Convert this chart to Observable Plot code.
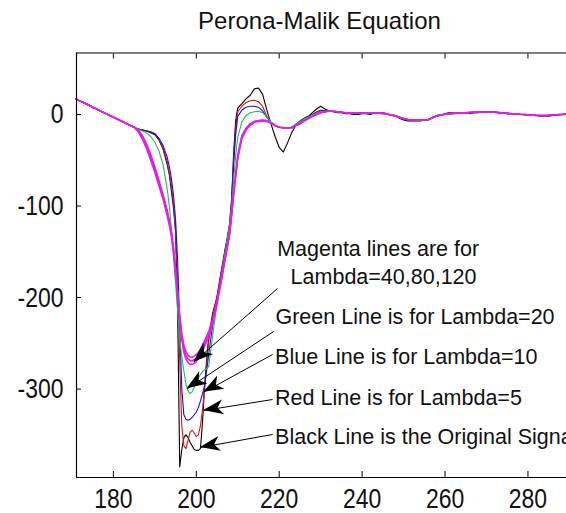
<!DOCTYPE html>
<html><head><meta charset="utf-8">
<script src="https://cdn.jsdelivr.net/npm/d3@7"></script>
<script src="https://cdn.jsdelivr.net/npm/@observablehq/plot@0.6"></script>
<style>body{margin:0;background:#fff;}</style>
</head><body><div id="chart"></div>
<script>
// ---------- data ----------
const titleText = ["Perona-Malik Equation"];
const xTicks = [180, 200, 220, 240, 260, 280];
const yTicks = [0, -100, -200, -300];
const xDomain = [171.1, 289.3];
const yDomain = [-396.6, 67.2];

// shared leading segment (all curves coincide)
const xHead = [171,172,173,174,175,176,177,178,179,180,181,182,183,184,185];
const yHead = [17,14.6,12.5,10.3,8,5.9,3.6,1.5,-0.8,-3,-5.1,-7.3,-9.6,-11.7,-13.9];

// dip region
const xDip = [186,187,188,189,190,191,192,193,193.5,194,194.5,195,195.5,196,196.5,197,197.5,198,198.5,199,199.5,200,200.5,201,201.5,202,202.5,203,204,205,206,207,208,208.5,209,209.5,210,211,212,213,214,215,216,217,218,219,220,221,222,223,224,225,226,227,228,229,230,231,232];
const blackDip = [-16,-17,-18,-20,-22,-28,-38,-55,-66,-84,-102,-128,-215,-385,-366,-353,-350,-353,-358,-362,-366,-367,-367,-365,-336,-296,-268,-242,-216,-200,-172,-146,-126,-100,-42,-6,7,12,17,21,28,29,22,5,-10,-24,-36,-41,-31,-20,-12,-7,-4,-2,2,6,9,6,4];
const redDip = [-16,-17,-18,-19,-21,-27,-37,-52,-64,-78,-98,-128,-185,-270,-340,-362,-365,-356,-347,-345,-348,-352,-350,-340,-322,-300,-272,-248,-220,-198,-172,-146,-120,-92,-48,-14,3,9,13,15,15.5,14,9,-2,-9,-12,-14,-14.5,-14.5,-14,-11,-8,-5,-3,0,3,5,4,3.5];
const blueDip = [-16,-17,-18,-19,-21,-26,-34,-47,-57,-70,-88,-115,-160,-230,-300,-328,-333,-334,-333,-331,-328,-325,-320,-313,-305,-296,-280,-262,-228,-201,-175,-148,-121,-95,-56,-22,-2,5,8,9,9,8,4,-3,-9,-12,-14,-14.5,-14.5,-14,-11,-8,-5,-3,0,2,4,4,3.5];
const greenDip = [-16,-18,-20,-24,-30,-40,-55,-82,-100,-125,-155,-185,-215,-245,-265,-280,-295,-302,-305,-303,-298,-292,-288,-284,-281,-279,-278,-275,-240,-206,-176,-149,-122,-100,-72,-45,-25,-8,-1,2,3,3.5,2,-2,-8,-12,-14,-14.5,-14.5,-14,-11,-8,-5,-3,-0.5,1.5,3,3.5,3.5];
const magenta40Dip = [-17,-23,-32,-44,-57,-72,-88,-105,-116,-128,-146,-168,-195,-224,-246,-260,-267,-271,-273,-273,-272,-270,-267,-263,-258,-253,-248,-243,-228,-207,-183,-157,-132,-110,-86,-65,-45,-23,-15,-10,-7.5,-6.5,-6,-6.5,-9,-12,-14,-14.5,-14.5,-14.5,-12,-10,-7,-4.5,-2,0,2,3,3.5];
const magenta80Dip = [-18,-25,-35,-47,-60,-75,-90,-108,-118,-130,-148,-170,-195,-222,-243,-256,-263,-267,-269,-269,-268,-266,-263,-259,-255,-250,-245,-240,-225,-205,-181,-156,-131,-110,-86,-66,-46,-24,-16,-11,-8,-7,-6.5,-7,-9,-12,-14,-14.5,-14.5,-14.5,-12,-10,-7,-4.5,-2,0,2,3,3.5];
const magenta120Dip = [-19,-27,-37,-50,-63,-78,-93,-111,-121,-133,-151,-172,-196,-220,-240,-252,-259,-263,-265,-265,-264,-262,-260,-256,-252,-247,-242,-237,-223,-203,-180,-155,-131,-111,-88,-68,-48,-26,-17,-12,-8.5,-7.5,-7,-7.5,-9.5,-12,-14,-14.5,-14.5,-14.5,-12,-10,-7,-4.5,-2,0,2,3,3.5];

// trailing segment
const xTail = [233,234,235,236,237,238,239,240,241,242,243,244,245,246,247,248,249,250,251,252,253,254,255,256,257,258,259,260,261,262,263,264,265,266,267,268,269,270,271,272,273,274,275,276,277,278,279,280,281,282,283,284,285,286,287,288,289,290];
const smoothTail = [3.5,3,2.5,2,1.5,1.5,1.5,1.5,1.5,1.5,1.5,1.5,1.2,0.5,-0.5,-1.5,-3,-4.5,-5.5,-6,-6,-6,-6,-5.5,-3.5,-1.5,-0.5,0.3,0.8,1.2,1.5,1.7,2,2.2,2.3,2.4,2.5,2.5,2.5,2.4,2.1,1.7,1.2,0.8,0.5,0.2,0,-0.3,-0.6,-0.9,-1.1,-1.2,-1,-0.6,-0.3,0,0.2,0.3];
const originalTail = [3,2,2,1,1,0,0,1,1,0,2,2,2,1,-1,-1,-4,-6,-7,-7,-7,-7,-6,-6,-3,-1,-1,1,2,2,2,2,2,1,2,2,3,3,3,3,2,2,1,1,0,0,0,-1,-1,-1,-2,-2,-2,-1,-1,0,0,0];

const seriesNames = ["Original", "Lambda=5", "Lambda=10", "Lambda=20", "Lambda=40", "Lambda=80", "Lambda=120"];
const seriesColors = ["#000000", "#e01010", "#1010ee", "#22bb55", "#e020e0", "#e020e0", "#e020e0"];

// annotations
const annoLabels = ["Magenta lines are for", "Lambda=40,80,120", "Green Line is for Lambda=20", "Blue Line is for Lambda=10", "Red Line is for Lambda=5", "Black Line is the Original Signal"];
const annoX = [219.5, 222.75, 219.1, 219.0, 219.0, 219.0];
const annoY = [-146.9, -177.5, -221.2, -265.5, -309.7, -352.3];
const arrowX1 = [219.6, 218.65, 218.4, 218.4, 218.4];
const arrowY1 = [-190.1, -237.1, -262.2, -311.4, -349.6];
const arrowX2 = [199.4, 197.8, 201.8, 201.8, 201.0];
const arrowY2 = [-270.6, -299.7, -303.4, -323.4, -363.8];

// ---------- build tables ----------
const dipSets = [blackDip, redDip, blueDip, greenDip, magenta40Dip, magenta80Dip, magenta120Dip];
const tails = [originalTail, smoothTail, smoothTail, smoothTail, smoothTail, smoothTail, smoothTail];
function table(i) {
  const xs = xHead.concat(xDip, xTail);
  const ys = yHead.concat(dipSets[i], tails[i]);
  return xs.map((x, j) => ({x, y: ys[j], series: seriesNames[i]}));
}
const annos = annoLabels.map((t, i) => ({t, x: annoX[i], y: annoY[i]}));
const arrows = arrowX1.map((x1, i) => ({x1, y1: arrowY1[i], x2: arrowX2[i], y2: arrowY2[i]}));

function arrowHeads(index, scales, values, dimensions, context) {
  const ns = "http://www.w3.org/2000/svg";
  const g = document.createElementNS(ns, "g");
  for (const a of arrows) {
    const X1 = scales.x(a.x1), Y1 = scales.y(a.y1), X2 = scales.x(a.x2), Y2 = scales.y(a.y2);
    const dx = X2 - X1, dy = Y2 - Y1, len = Math.hypot(dx, dy);
    const ux = dx / len, uy = dy / len, nx = -uy, ny = ux;
    const L = 20, W = 7.5, N = 0.72 * L;
    const pts = [
      [X2, Y2],
      [X2 - L * ux + W * nx, Y2 - L * uy + W * ny],
      [X2 - N * ux, Y2 - N * uy],
      [X2 - L * ux - W * nx, Y2 - L * uy - W * ny]
    ];
    const p = document.createElementNS(ns, "path");
    p.setAttribute("d", "M" + pts.map(q => q[0].toFixed(2) + "," + q[1].toFixed(2)).join("L") + "Z");
    p.setAttribute("fill", "black");
    g.appendChild(p);
  }
  return g;
}

const sans = "'Liberation Sans', Arial, sans-serif";

const lineMarks = seriesNames.map((n, i) =>
  Plot.line(table(i), {x: "x", y: "y", stroke: seriesColors[i], strokeWidth: i >= 4 ? 1.6 : 1.1})
);

const plot = Plot.plot({
  width: 566, height: 513,
  marginLeft: 76, marginRight: 0, marginTop: 52.5, marginBottom: 36,
  x: {domain: xDomain, label: null},
  y: {domain: yDomain, label: null},
  style: {fontFamily: sans, background: "white", overflow: "hidden"},
  marks: [
    ...lineMarks,
    Plot.ruleY([yDomain[0], yDomain[1]], {stroke: "black", strokeWidth: 1.2}),
    Plot.ruleX([xDomain[0]], {stroke: "black", strokeWidth: 1.2}),
    Plot.axisX(xTicks, {anchor: "bottom", tickSize: 0, tickPadding: 11, fontSize: 28, fill: "#111", tickFormat: d => String(d), label: null}),
    Plot.axisX(xTicks, {anchor: "bottom", tickSize: -6, tickFormat: () => "", label: null}),
    Plot.axisX(xTicks, {anchor: "top", tickSize: -5, tickFormat: () => "", label: null}),
    Plot.axisY(yTicks, {anchor: "left", tickSize: 0, tickPadding: 13, fontSize: 28, fill: "#111", tickFormat: d => String(d), label: null}),
    Plot.axisY(yTicks, {anchor: "left", tickSize: -5, tickFormat: () => "", label: null}),
    Plot.text(titleText, {frameAnchor: "top", dx: -2, dy: -31.5, fontSize: 24, lineAnchor: "middle", fill: "#111"}),
    Plot.text(annos, {x: "x", y: "y", text: "t", textAnchor: "start", lineAnchor: "middle", fontSize: 21.5, fill: "#111"}),
    Plot.link(arrows, {x1: "x1", y1: "y1", x2: "x2", y2: "y2", stroke: "black", strokeWidth: 1}),
    arrowHeads
  ]
});

// condense the tick labels horizontally (narrow, tall digits as in the original)
plot.querySelectorAll('g[aria-label$="tick label"] text').forEach(t => {
  const tr = t.getAttribute("transform");
  if (tr) {
    t.setAttribute("transform", tr + " scale(0.82,1)");
  } else {
    const x = parseFloat(t.getAttribute("x") || "0");
    t.setAttribute("x", x / 0.82);
    t.setAttribute("transform", "scale(0.82,1)");
  }
});

document.getElementById("chart").appendChild(plot);
</script>
</body></html>
